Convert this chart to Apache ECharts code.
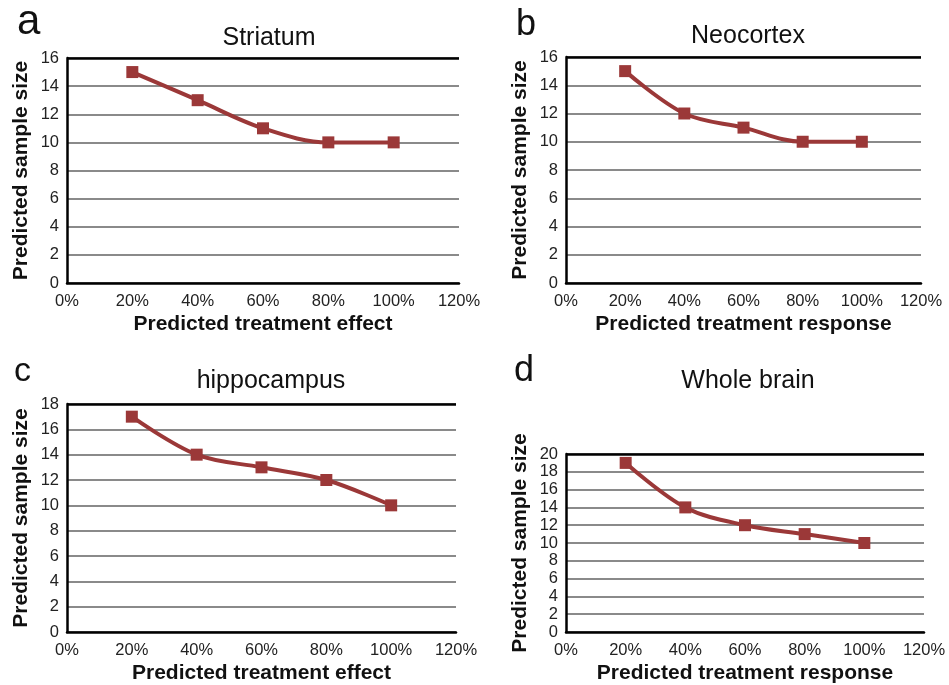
<!DOCTYPE html>
<html>
<head>
<meta charset="utf-8">
<script src="https://cdn.jsdelivr.net/npm/echarts@6/dist/echarts.min.js"></script>
<style>
  html, body { margin: 0; padding: 0; background: #fff; }
  #chart { width: 949px; height: 685px; }
</style>
</head>
<body>
<div id="chart"></div>
<script>
// treatment effect / response (fraction), same for all panels
const effects = [0.2, 0.4, 0.6, 0.8, 1.0];

const striatum = [15, 13, 11, 10, 10];
const neocortex = [15, 12, 11, 10, 10];
const hippocampus = [17, 14, 13, 12, 10];
const wholeBrain = [19, 14, 12, 11, 10];

const panelLetters = ['a', 'b', 'c', 'd'];
const panelTitles = ['Striatum', 'Neocortex', 'hippocampus', 'Whole brain'];
const xNames = ['Predicted treatment effect', 'Predicted treatment response',
  'Predicted treatment effect', 'Predicted treatment response'];
const yName = 'Predicted sample size';
const yMax = [16, 16, 18, 20];

const chart = echarts.init(document.getElementById('chart'));

const FONT = 'Liberation Sans, Arial, sans-serif';
const lineColor = '#9b3838';

// plot boxes [left, top, right, bottom] in px
const boxes = [
  [67, 58, 459, 283],
  [566, 57, 921, 283],
  [67, 404, 456, 632],
  [566, 454, 924, 632]
];
const titlePos = [[264, 21], [743, 19], [266, 364], [743, 364]];
const letterPos = [[12, -4], [511, 2], [9, 350], [509, 348]];
const letterSize = [42, 36, 34, 36];

const allData = [striatum, neocortex, hippocampus, wholeBrain];

const grids = boxes.map(b => ({
  left: b[0], top: b[1], width: b[2] - b[0], height: b[3] - b[1]
}));

const xAxes = boxes.map((b, i) => ({
  type: 'value',
  gridIndex: i,
  min: 0, max: 1.2, interval: 0.2,
  name: xNames[i],
  nameLocation: 'middle',
  nameGap: 31,
  nameTextStyle: { fontFamily: FONT, fontSize: 21, fontWeight: 'bold', color: '#111' },
  axisLine: { lineStyle: { color: '#000', width: 2.5 } },
  axisTick: { show: false },
  splitLine: { show: false },
  axisLabel: {
    fontFamily: FONT, fontSize: 16.5, color: '#222', margin: 10,
    formatter: v => Math.round(v * 100) + '%'
  }
}));

const yAxes = boxes.map((b, i) => ({
  type: 'value',
  gridIndex: i,
  min: 0, max: yMax[i], interval: 2,
  name: yName,
  nameLocation: 'middle',
  nameRotate: 90,
  nameGap: 35,
  nameTextStyle: { fontFamily: FONT, fontSize: 21, fontWeight: 'bold', color: '#111' },
  axisLine: { show: true, lineStyle: { color: '#000', width: 2.5 } },
  axisTick: { show: false },
  axisLabel: { fontFamily: FONT, fontSize: 16.5, color: '#222', margin: 8 },
  splitLine: {
    show: true,
    lineStyle: { color: '#8a8a8a', width: 2 }
  }
}));

// black top border line drawn as a markLine at the axis max
const series = allData.map((vals, i) => ({
  type: 'line',
  xAxisIndex: i,
  yAxisIndex: i,
  smooth: 0.35,
  data: effects.map((x, k) => [x, vals[k]]),
  symbol: 'rect',
  symbolSize: 12,
  itemStyle: { color: lineColor },
  lineStyle: { color: lineColor, width: 4 },
  markLine: {
    silent: true,
    symbol: 'none',
    label: { show: false },
    lineStyle: { color: '#000', width: 2.5, type: 'solid' },
    data: [[{ coord: [0, yMax[i]] }, { coord: [1.2, yMax[i]] }]]
  }
}));

const titles = [];
panelTitles.forEach((t, i) => {
  titles.push({
    text: t,
    left: titlePos[i][0], top: titlePos[i][1],
    textAlign: 'center',
    textStyle: { fontFamily: FONT, fontSize: 25, fontWeight: 'normal', color: '#111' }
  });
  titles.push({
    text: panelLetters[i],
    left: letterPos[i][0], top: letterPos[i][1],
    textStyle: { fontFamily: FONT, fontSize: letterSize[i], fontWeight: 'normal', color: '#111' }
  });
});

chart.setOption({
  backgroundColor: '#fff',
  animation: false,
  title: titles,
  grid: grids,
  xAxis: xAxes,
  yAxis: yAxes,
  series: series
});
</script>
</body>
</html>
